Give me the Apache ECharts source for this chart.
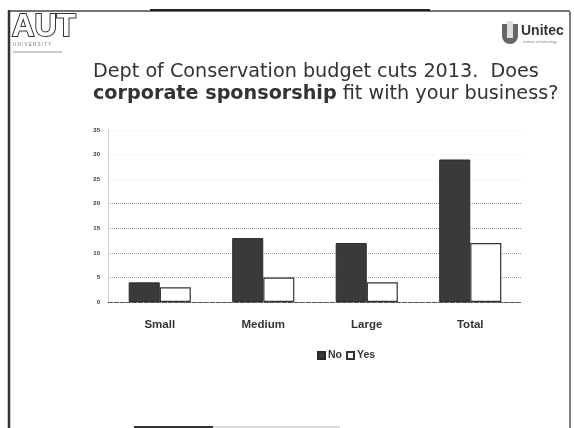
<!DOCTYPE html>
<html><head><meta charset="utf-8">
<script src="https://cdn.jsdelivr.net/npm/echarts@6/dist/echarts.min.js"></script>
<style>html,body{margin:0;padding:0;background:#fff}#c{width:574px;height:428px}</style>
</head><body><div id="c"></div>
<script>
const categories = ['Small', 'Medium', 'Large', 'Total'];
const noValues = [4, 13, 12, 29];
const yesValues = [3, 5, 4, 12];
const yTicks = [0, 5, 10, 15, 20, 25, 30, 35];

const chart = echarts.init(document.getElementById('c'));
chart.setOption({
  backgroundColor: '#fff',
  animation: false,
  title: {
    text: '{a|Dept of Conservation budget cuts 2013.  Does}\n{b|corporate sponsorship}{a| fit with your business?}',
    left: 88, top: 56, textAlign: 'left',
    textStyle: {
      fontWeight: 'normal',
      rich: {
        a: {fontFamily: 'DejaVu Sans', fontSize: 19.2, fontWeight: 'normal', color: '#333', lineHeight: 22},
        b: {fontFamily: 'DejaVu Sans', fontSize: 19.2, fontWeight: 'bold', color: '#333', lineHeight: 22}
      }
    }
  },
  legend: {
    data: ['No', 'Yes'], left: 312, top: 345, textAlign: 'center',
    itemWidth: 7, itemHeight: 7, itemGap: 4,
    icon: 'rect',
    textStyle: {fontFamily: 'Liberation Sans', fontWeight: 'bold', fontSize: 10.5, color: '#333', padding: [0,0,0,-2]}
  },
  grid: {left: 108, right: 52, top: 130, bottom: 126},
  xAxis: {
    type: 'category', data: categories,
    axisLine: {lineStyle: {color: '#555', type: 'dashed', width: 1}},
    axisTick: {show: false},
    axisLabel: {margin: 17, fontFamily: 'Liberation Sans', fontWeight: 'bold', fontSize: 11.5, color: '#333'}
  },
  yAxis: {
    type: 'value', min: 0, max: 35, interval: 5,
    axisLine: {show: true, lineStyle: {color: '#ccc', width: 1}},
    axisTick: {show: false},
    axisLabel: {fontFamily: 'Liberation Sans', fontWeight: 'bold', fontSize: 6, color: '#333', margin: 8,
      formatter: v => yTicks.includes(v) ? String(v) : ''},
    splitLine: {show: true, lineStyle: {type: 'dotted', width: 1,
      color: ['#555', '#999', '#999', '#999', '#999', '#eee', '#eee', '#eee']}}
  },
  series: [
    {name: 'No', type: 'bar', data: noValues, barGap: '0%', barCategoryGap: '40%',
      itemStyle: {color: '#3a3a3a', borderColor: '#2a2a2a', borderWidth: 1}},
    {name: 'Yes', type: 'bar', data: yesValues,
      itemStyle: {color: '#fff', borderColor: '#333', borderWidth: 1.2}}
  ],
  graphic: [
    {type: 'line', shape: {x1: 10, y1: 11, x2: 570, y2: 11}, style: {stroke: '#444', lineWidth: 1.5}},
    {type: 'line', shape: {x1: 150, y1: 10, x2: 430, y2: 10}, style: {stroke: '#222', lineWidth: 2}},
    {type: 'line', shape: {x1: 9, y1: 10, x2: 9, y2: 428}, style: {stroke: '#333', lineWidth: 2.5}},
    {type: 'line', shape: {x1: 570, y1: 12, x2: 570, y2: 428}, style: {stroke: '#555', lineWidth: 1.5}},
    {type: 'line', shape: {x1: 134, y1: 427, x2: 213, y2: 427}, style: {stroke: '#333', lineWidth: 2}},
    {type: 'line', shape: {x1: 213, y1: 427, x2: 340, y2: 427}, style: {stroke: '#ccc', lineWidth: 1.5}},
    {type: 'text', style: {x: 12, y: 12, verticalAlign: 'top', text: 'AUT', fontFamily: 'Liberation Sans Narrow, Liberation Sans', fontWeight: 'bold', fontSize: 31,
      fill: '#fff', stroke: '#333', lineWidth: 2}},
    {type: 'text', style: {x: 13, y: 42, verticalAlign: 'top', text: 'U N I V E R S I T Y', fontFamily: 'Liberation Sans', fontSize: 4.5, fill: '#777'}},
    {type: 'line', shape: {x1: 13, y1: 52, x2: 62, y2: 52}, style: {stroke: '#999', lineWidth: 1}},
    {type: 'rect', shape: {x: 502, y: 24, width: 16, height: 20, r: [0,0,8,8]}, style: {fill: '#666'}},
    {type: 'rect', shape: {x: 507, y: 21, width: 6, height: 17}, style: {fill: '#ddd'}},
    {type: 'text', style: {x: 521, y: 24, verticalAlign: 'top', text: 'Unitec', fontFamily: 'Liberation Sans', fontWeight: 'bold', fontSize: 14, fill: '#333'}},
    {type: 'text', style: {x: 523, y: 40, verticalAlign: 'top', text: 'institute of technology', fontFamily: 'Liberation Sans', fontSize: 3.5, fill: '#888'}}
  ]
});
</script></body></html>
